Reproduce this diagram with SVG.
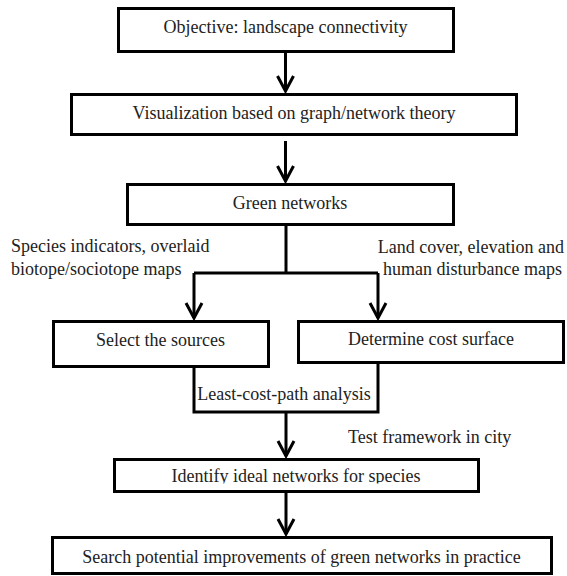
<svg xmlns="http://www.w3.org/2000/svg" width="567" height="576" viewBox="0 0 567 576">
<style>
.box{fill:#fff;stroke:#000;stroke-width:3}
.t{font-family:'Liberation Serif','Times New Roman',serif;font-size:18px;fill:#222}
.c{text-anchor:middle}
.e{text-anchor:end}
.ln{fill:none;stroke:#000;stroke-width:3}
</style>
<defs>
<marker id="ah" markerUnits="userSpaceOnUse" viewBox="-17 -10 19 20" markerWidth="19" markerHeight="20" refX="0" refY="0" orient="auto" overflow="visible">
<path d="M-15,-8 L0,0 L-15,8" fill="none" stroke="#000" stroke-width="3"/>
</marker>
<clipPath id="clipId"><rect x="114" y="459" width="365" height="24.5"/></clipPath>
</defs>
<rect width="567" height="576" fill="#fff"/>
<g id="connectors">
<path class="ln" d="M285.5,52 V91" marker-end="url(#ah)"/>
<path class="ln" d="M285.5,141 V181" marker-end="url(#ah)"/>
<path class="ln" d="M286,225 V273"/>
<path class="ln" d="M194,273 H378"/>
<path class="ln" d="M194,273 V318" marker-end="url(#ah)"/>
<path class="ln" d="M378,273 V318" marker-end="url(#ah)"/>
<path class="ln" d="M194,367 V412 H378 V363"/>
<path class="ln" d="M286,412 V456" marker-end="url(#ah)"/>
<path class="ln" d="M286,492 V534" marker-end="url(#ah)"/>
</g>
<g id="n1"><rect class="box" x="118.5" y="8.5" width="335" height="43"/><text class="t c" x="285.5" y="33">Objective: landscape connectivity</text></g>
<g id="n2"><rect class="box" x="71.5" y="94.5" width="445" height="40"/><text class="t c" x="294" y="119">Visualization based on graph/network theory</text></g>
<g id="n3"><rect class="box" x="127.5" y="184.5" width="326" height="40"/><text class="t c" x="290" y="209">Green networks</text></g>
<g id="lblLeft"><text class="t" x="11" y="252">Species indicators, overlaid</text><text class="t" x="11" y="275">biotope/sociotope maps</text></g>
<g id="lblRight"><text class="t e" x="564" y="253">Land cover, elevation and</text><text class="t e" x="562" y="275">human disturbance maps</text></g>
<g id="n4"><rect class="box" x="53.5" y="321.5" width="215" height="45"/><text class="t c" x="160.5" y="346">Select the sources</text></g>
<g id="n5"><rect class="box" x="298.5" y="321.5" width="265" height="41"/><text class="t c" x="431" y="345">Determine cost surface</text></g>
<g id="lblLcp"><text class="t c" x="284" y="400">Least-cost-path analysis</text></g>
<g id="lblTest"><text class="t" x="348" y="443">Test framework in city</text></g>
<g id="n6"><rect class="box" x="114.5" y="459.5" width="364" height="32"/><text class="t c" x="296" y="482" clip-path="url(#clipId)">Identify ideal networks for species</text></g>
<g id="n7"><rect class="box" x="52.5" y="537.5" width="499" height="36"/><text class="t c" x="301.5" y="563">Search potential improvements of green networks in practice</text></g>
</svg>
